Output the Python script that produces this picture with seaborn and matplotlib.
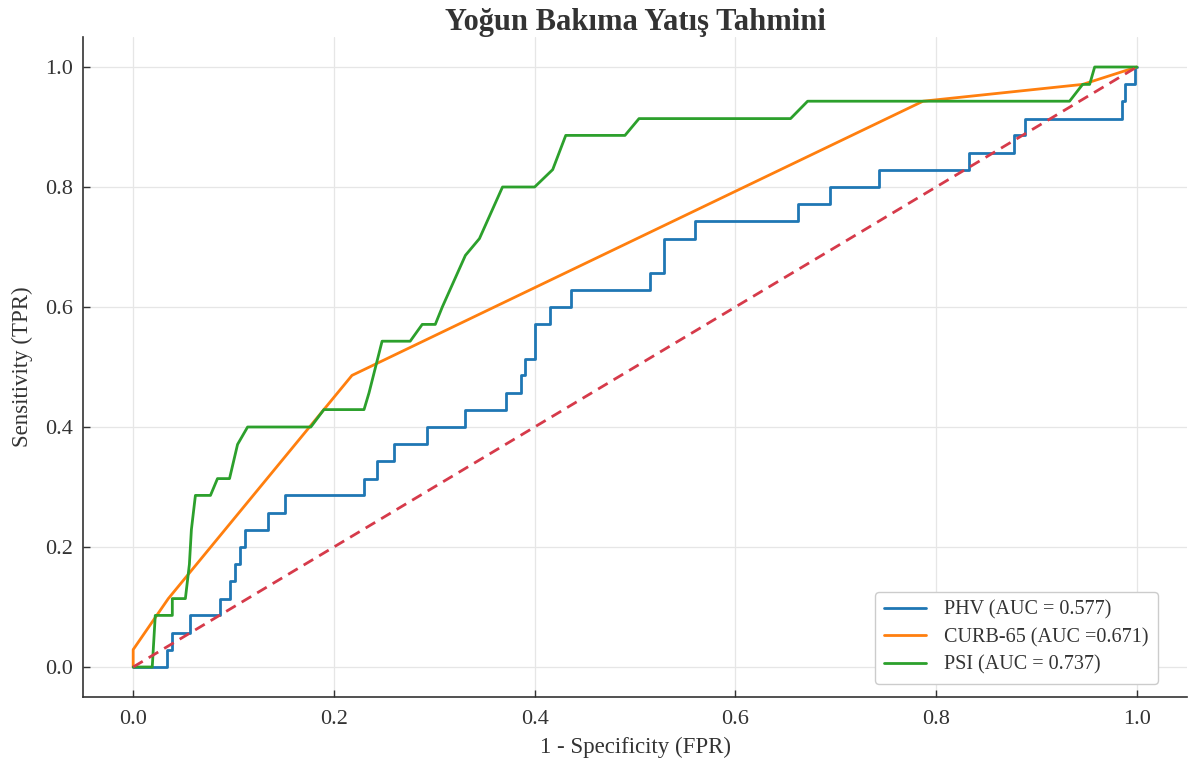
import numpy as np
import pandas as pd
import matplotlib
matplotlib.use("Agg")
import matplotlib.pyplot as plt
import seaborn as sns

# ---- data ----
phv_fpr = [0, 0.034, 0.034, 0.039, 0.039, 0.057, 0.057, 0.087, 0.087, 0.096, 0.096, 0.101, 0.101,
           0.106, 0.106, 0.111, 0.111, 0.134, 0.134, 0.151, 0.151, 0.230, 0.230, 0.243, 0.243,
           0.260, 0.260, 0.293, 0.293, 0.331, 0.331, 0.371, 0.371, 0.386, 0.386, 0.390, 0.390,
           0.400, 0.400, 0.415, 0.415, 0.436, 0.436, 0.515, 0.515, 0.529, 0.529, 0.560, 0.560,
           0.662, 0.662, 0.694, 0.694, 0.743, 0.743, 0.833, 0.833, 0.878, 0.878, 0.889, 0.889,
           0.985, 0.985, 0.988, 0.988, 0.998, 0.998, 1.0]
phv_tpr = [0, 0, 0.029, 0.029, 0.057, 0.057, 0.086, 0.086, 0.114, 0.114, 0.143, 0.143, 0.171,
           0.171, 0.200, 0.200, 0.229, 0.229, 0.257, 0.257, 0.286, 0.286, 0.314, 0.314, 0.343,
           0.343, 0.371, 0.371, 0.400, 0.400, 0.429, 0.429, 0.457, 0.457, 0.486, 0.486, 0.514,
           0.514, 0.571, 0.571, 0.600, 0.600, 0.629, 0.629, 0.657, 0.657, 0.714, 0.714, 0.743,
           0.743, 0.771, 0.771, 0.800, 0.800, 0.829, 0.829, 0.857, 0.857, 0.886, 0.886, 0.914,
           0.914, 0.943, 0.943, 0.971, 0.971, 1.0, 1.0]

curb_fpr = [0, 0, 0.035, 0.218, 0.787, 0.946, 1.0]
curb_tpr = [0, 0.029, 0.114, 0.486, 0.943, 0.971, 1.0]

psi_fpr = [0, 0.019, 0.022, 0.039, 0.039, 0.052, 0.056, 0.058, 0.062, 0.077, 0.084, 0.096, 0.104,
           0.114, 0.177, 0.190, 0.230, 0.235, 0.248, 0.276, 0.288, 0.301, 0.308, 0.331, 0.345,
           0.368, 0.400, 0.418, 0.431, 0.490, 0.504, 0.655, 0.672, 0.933, 0.946, 0.953, 0.958, 1.0]
psi_tpr = [0, 0, 0.086, 0.086, 0.114, 0.114, 0.171, 0.229, 0.286, 0.286, 0.314, 0.314, 0.371,
           0.400, 0.400, 0.429, 0.429, 0.457, 0.543, 0.543, 0.571, 0.571, 0.600, 0.686, 0.714,
           0.800, 0.800, 0.829, 0.886, 0.886, 0.914, 0.914, 0.943, 0.943, 0.971, 0.971, 1.0, 1.0]

labels = ["PHV (AUC = 0.577)", "CURB-65 (AUC =0.671)", "PSI (AUC = 0.737)"]
colors = ["#1f77b4", "#ff7f0e", "#2ca02c"]
diag_x = [0, 1]
diag_y = [0, 1]

title = "Yoğun Bakıma Yatış Tahmini"
xlabel = "1 - Specificity (FPR)"
ylabel = "Sensitivity (TPR)"

# ---- style ----
sns.set_theme(style="whitegrid")
plt.rcParams["font.family"] = ["Liberation Serif", "DejaVu Serif"]
plt.rcParams.update({
    "axes.edgecolor": "#333333",
    "axes.linewidth": 1.2,
    "grid.color": "#e6e6e6",
    "grid.linewidth": 0.9,
    "xtick.bottom": True,
    "ytick.left": True,
    "xtick.direction": "in",
    "ytick.direction": "in",
    "xtick.color": "#333333",
    "ytick.color": "#333333",
    "text.color": "#333333",
    "axes.labelcolor": "#333333",
})

frames = []
for lab, fx, ty in zip(labels, [phv_fpr, curb_fpr, psi_fpr], [phv_tpr, curb_tpr, psi_tpr]):
    frames.append(pd.DataFrame({"fpr": fx, "tpr": ty, "model": lab, "order": np.arange(len(fx))}))
df = pd.concat(frames, ignore_index=True)

fig = plt.figure(figsize=(11.92, 7.62), dpi=100)
ax = fig.add_axes([83 / 1192, 1 - 697 / 762, (1187 - 83) / 1192, (697 - 37) / 762])

sns.lineplot(data=df, x="fpr", y="tpr", hue="model", hue_order=labels,
             palette=dict(zip(labels, colors)), sort=False, estimator=None,
             units="model", linewidth=2.0, ax=ax)
sns.lineplot(x=diag_x, y=diag_y, color="#d63a4a", linestyle=(0, (4, 2.5)),
             linewidth=2.0, ax=ax)

ax.set_xlim(-0.05, 1.05)
ax.set_ylim(-0.05, 1.05)
ax.set_xticks([0, 0.2, 0.4, 0.6, 0.8, 1.0])
ax.set_yticks([0, 0.2, 0.4, 0.6, 0.8, 1.0])
ax.set_xticklabels(["0.0", "0.2", "0.4", "0.6", "0.8", "1.0"])
ax.set_yticklabels(["0.0", "0.2", "0.4", "0.6", "0.8", "1.0"])
ax.tick_params(axis="x", labelsize=16, length=5, width=1.0, pad=9)
ax.tick_params(axis="y", labelsize=16, length=5, width=1.0, pad=7)
ax.set_xlabel(xlabel, fontsize=16.5, labelpad=6)
ax.set_ylabel(ylabel, fontsize=16.5, labelpad=9)
ax.set_title(title, fontsize=22, fontweight="bold", pad=4)
sns.despine(ax=ax, top=True, right=True)

leg = ax.legend(loc="lower right", fontsize=14.5, frameon=True, handlelength=2.1,
                handletextpad=0.9, borderpad=0.45, labelspacing=0.4,
                bbox_to_anchor=(0.9825, 0.005))
leg.get_frame().set_edgecolor("#cccccc")
leg.get_frame().set_linewidth(1.0)
leg.get_frame().set_alpha(1.0)
for t in leg.get_texts():
    t.set_color("#333333")

fig.savefig("out.png", dpi=100)
